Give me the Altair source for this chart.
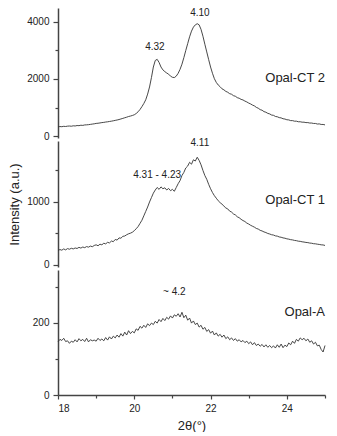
import altair as alt
import pandas as pd

FONT = "Liberation Sans"

# sampling positions (2theta, degrees), every 0.05 from 18 to 25
xs = [round(18 + 0.05 * i, 2) for i in range(141)]

opal_ct2 = [
    320, 332, 326, 340, 334, 346, 350, 343, 358, 352, 368, 362, 378, 372, 388, 392, 398, 408, 418, 428,
    442, 448, 458, 470, 478, 490, 498, 510, 520, 534, 548, 562, 578, 598, 618, 640, 660, 684, 700, 720,
    745, 790, 850, 930, 1030, 1140, 1270, 1470, 1720, 2050, 2420, 2650, 2690, 2580, 2420, 2320, 2260, 2210, 2170, 2100,
    2060, 2050, 2100, 2200, 2340, 2520, 2750, 3000, 3240, 3480, 3680, 3820, 3900, 3940, 3900, 3740, 3500, 3220, 2950, 2680,
    2420, 2200, 2010, 1880, 1790, 1730, 1655, 1620, 1565, 1535, 1485, 1465, 1415, 1395, 1345, 1325, 1285, 1265, 1225, 1195,
    1155, 1125, 1085, 1055, 1005, 975, 925, 905, 855, 835, 795, 775, 735, 725, 685, 675, 645, 635, 605, 595,
    570, 565, 540, 540, 520, 520, 500, 500, 485, 485, 470, 470, 455, 455, 440, 440, 420, 425, 405, 405,
    390,
]

opal_ct1 = [
    230, 245, 235, 255, 240, 260, 250, 265, 255, 270, 262, 280, 268, 285, 275, 292, 283, 300, 290, 310,
    320, 305, 330, 320, 345, 335, 360, 350, 380, 370, 405, 395, 430, 425, 455, 460, 480, 495, 505, 520,
    545, 575, 610, 660, 710, 780, 850, 920, 1000, 1070, 1140, 1190, 1230, 1200, 1240, 1210, 1225, 1190, 1215, 1180,
    1200, 1170, 1230, 1290, 1340, 1420, 1470, 1540, 1570, 1630, 1600, 1670, 1650, 1710, 1660, 1590, 1500, 1420, 1360, 1280,
    1210, 1150, 1100, 1060, 1020, 990, 965, 935, 905, 890, 855, 840, 810, 795, 765, 750, 725, 705, 690, 665,
    650, 630, 615, 600, 580, 570, 550, 540, 525, 515, 500, 492, 480, 475, 462, 458, 445, 440, 430, 425,
    415, 410, 402, 398, 390, 386, 378, 375, 368, 364, 358, 355, 348, 345, 338, 336, 330, 326, 320, 318,
    310,
]

opal_a = [
    147, 154, 151, 157, 148, 150, 143, 149, 146, 153, 147, 156, 150, 154, 148, 157, 147, 153, 150, 152,
    149, 157, 151, 155, 150, 159, 152, 161, 155, 163, 158, 166, 160, 170, 163, 174, 166, 178, 170, 176,
    172, 183, 179, 190, 185, 193, 187, 197, 192, 199, 195, 204, 199, 209, 203, 212, 206, 215, 210, 219,
    213, 222, 218, 225, 216, 229, 214, 221, 207, 213, 199, 205, 195, 199, 188, 193, 182, 187, 176, 181,
    171, 177, 166, 172, 163, 168, 160, 166, 156, 161, 153, 158, 151, 156, 149, 153, 147, 151, 145, 149,
    142, 147, 139, 145, 137, 141, 135, 140, 133, 139, 132, 137, 131, 136, 130, 139, 132, 141, 131, 138,
    134, 144, 139, 149, 143, 154, 149, 158, 153, 157, 150, 155, 146, 150, 141, 146, 136, 138, 126, 119,
    137,
]

# annotations: (x, y, text)
ct2_peaks = [(20.54, 3120, "4.32"), (21.72, 4315, "4.10")]
ct1_peaks = [(20.60, 1429, "4.31 - 4.23"), (21.72, 1937, "4.11")]
a_peaks = [(21.05, 285, "~ 4.2")]
ct2_name = (25, 2035, "Opal-CT 2")
ct1_name = (25, 1032, "Opal-CT 1")
a_name = (25, 229, "Opal-A")

PLOT_W = 267

xscale = alt.Scale(domain=[18, 25], nice=False, zero=False)

axis_style = dict(
    domainColor="#444", domainWidth=1.5, tickColor="#444", tickWidth=1.2,
    labelFont=FONT, labelFontSize=10, labelColor="#222", grid=False, format="d",
)

xaxis = alt.Axis(
    values=[18, 19, 20, 21, 22, 23, 24, 25],
    labelExpr="datum.value % 2 == 0 ? datum.label : ''",
    tickSize={"expr": "datum.value % 2 == 0 ? 4 : 3"},
    labelPadding=4,
    title="2θ(°)", titleFont=FONT, titleFontSize=13, titleFontWeight="normal",
    titleColor="#222", titlePadding=6,
    **axis_style,
)


def yaxis(vals, major, title=None, height=127):
    kw = dict(
        values=vals,
        labelExpr=f"datum.value % {major} == 0 ? datum.label : ''",
        tickSize={"expr": f"datum.value % {major} == 0 ? 5 : 3"},
        labelPadding=4,
        **axis_style,
    )
    if title:
        kw.update(title=title, titleFont=FONT, titleFontSize=13, titleFontWeight="normal",
                  titleColor="#222", titleX=-40, titleY=height / 2, titleAlign="center",
                  titleBaseline="alphabetic", titleAngle=270)
    else:
        kw.update(title=None)
    return alt.Axis(**kw)


def make_panel(vals, dom, h, yax, peaks, name, show_x):
    rows = [{"x": a, "y": b, "k": "line", "t": ""} for a, b in zip(xs, vals)]
    rows += [{"x": a, "y": b, "k": "peak", "t": t} for a, b, t in peaks]
    rows += [{"x": name[0], "y": name[1], "k": "name", "t": name[2]}]
    d = pd.DataFrame(rows)
    base = alt.Chart(d).encode(
        x=alt.X("x:Q", scale=xscale, axis=xaxis if show_x else None),
        y=alt.Y("y:Q", scale=alt.Scale(domain=dom, nice=False, zero=False), axis=yax),
    )
    line = base.transform_filter("datum.k == 'line'").mark_line(color="#333", strokeWidth=0.9)
    pk = base.transform_filter("datum.k == 'peak'").mark_text(
        font=FONT, fontSize=10, color="#222", align="center", baseline="middle"
    ).encode(text="t:N")
    nm = base.transform_filter("datum.k == 'name'").mark_text(
        font=FONT, fontSize=13, color="#222", align="right", baseline="middle"
    ).encode(text="t:N")
    return alt.layer(line, pk, nm).properties(width=PLOT_W, height=h)


top = make_panel(opal_ct2, [-70, 4491], 130, yaxis([0, 1000, 2000, 3000, 4000], 2000),
                 ct2_peaks, ct2_name, False)
mid = make_panel(opal_ct1, [-32, 1968], 126,
                 yaxis([0, 500, 1000, 1500], 1000, title="Intensity (a.u.)", height=126),
                 ct1_peaks, ct1_name, False)
bot = make_panel(opal_a, [0, 346], 125, yaxis([0, 100, 200, 300], 200),
                 a_peaks, a_name, True)

chart = alt.vconcat(top, mid, bot, spacing=3, bounds="flush").properties(
    padding={"left": 0, "top": 0, "right": 0, "bottom": 0}
).configure_view(stroke=None)

chart.save("out.html", embed_options={"renderer": "svg", "actions": False})
